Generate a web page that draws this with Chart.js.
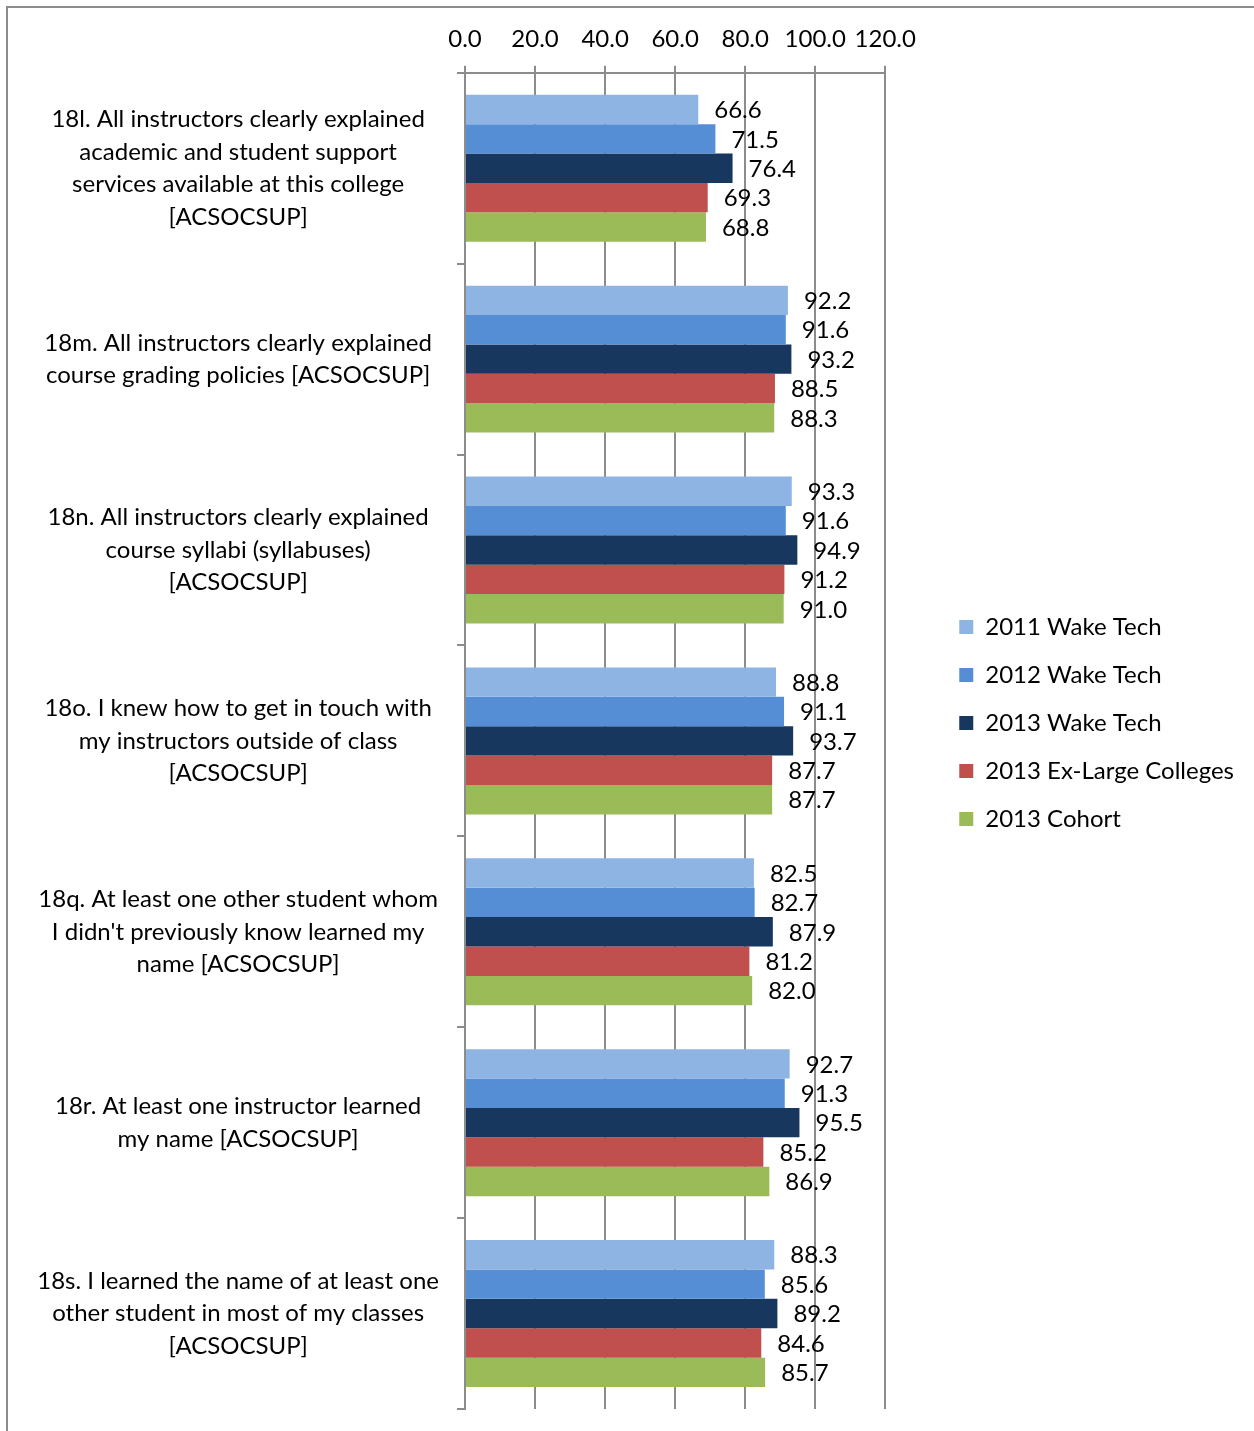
<!DOCTYPE html>
<html><head><meta charset="utf-8">
<script src="https://cdn.jsdelivr.net/npm/chart.js@4"></script>
<style>
html,body{margin:0;padding:0;background:#fff;overflow:hidden;}
#wrap{position:relative;width:1254px;height:1431px;}
#frame{position:absolute;left:6px;top:6px;width:1400px;height:1600px;border-left:2px solid #8c8c8c;border-top:2px solid #8c8c8c;pointer-events:none;}
canvas{position:absolute;left:0;top:0;}
</style></head>
<body><div id="wrap"><canvas id="c" width="1254" height="1431"></canvas><div id="frame"></div></div>
<script>
const categories = [
  ["18l. All instructors clearly explained","academic and student support","services available at this college","[ACSOCSUP]"],
  ["18m. All instructors clearly explained","course grading policies [ACSOCSUP]"],
  ["18n. All instructors clearly explained","course syllabi (syllabuses)","[ACSOCSUP]"],
  ["18o. I knew how to get in touch with","my instructors outside of class","[ACSOCSUP]"],
  ["18q. At least one other student whom","I didn't previously know learned my","name [ACSOCSUP]"],
  ["18r. At least one instructor learned","my name [ACSOCSUP]"],
  ["18s. I learned the name of at least one","other student in most of my classes","[ACSOCSUP]"]
];
const seriesNames = ["2011 Wake Tech","2012 Wake Tech","2013 Wake Tech","2013 Ex-Large Colleges","2013 Cohort"];
const wake2011 = [66.6, 92.2, 93.3, 88.8, 82.5, 92.7, 88.3];
const wake2012 = [71.5, 91.6, 91.6, 91.1, 82.7, 91.3, 85.6];
const wake2013 = [76.4, 93.2, 94.9, 93.7, 87.9, 95.5, 89.2];
const exLarge2013 = [69.3, 88.5, 91.2, 87.7, 81.2, 85.2, 84.6];
const cohort2013 = [68.8, 88.3, 91.0, 87.7, 82.0, 86.9, 85.7];
const xTicks = [0, 20, 40, 60, 80, 100, 120];
const colors = ["#8EB4E3","#558ED5","#17375E","#C0504D","#9BBB59"];

const FONT = "Lato, 'Open Sans', sans-serif";
const seriesValues = [wake2011, wake2012, wake2013, exLarge2013, cohort2013];

const valueLabels = {
  id: 'valueLabels',
  afterDatasetsDraw(chart) {
    const ctx = chart.ctx;
    ctx.save();
    ctx.font = "24px " + FONT;
    ctx.fillStyle = "#000";
    ctx.textAlign = "left";
    ctx.textBaseline = "middle";
    chart.data.datasets.forEach((ds, i) => {
      const meta = chart.getDatasetMeta(i);
      meta.data.forEach((el, j) => {
        ctx.fillText(ds.data[j].toFixed(1), el.x + 16, el.y + 1);
      });
    });
    ctx.restore();
  }
};

function zeroPad(s) { s.paddingTop = 0; s.paddingBottom = 0; s.paddingLeft = 0; s.paddingRight = 0; }

new Chart(document.getElementById('c'), {
  type: 'bar',
  data: {
    labels: categories,
    datasets: seriesNames.map((n, i) => ({
      label: n,
      data: seriesValues[i],
      backgroundColor: colors[i],
      borderWidth: 0,
      barPercentage: 1.0,
      categoryPercentage: 0.77
    }))
  },
  options: {
    indexAxis: 'y',
    responsive: false,
    animation: false,
    maintainAspectRatio: false,
    layout: { padding: { top: 13, bottom: 22, left: 25, right: 10 } },
    scales: {
      x: {
        position: 'top',
        min: 0, max: 120,
        afterBuildTicks: s => { s.ticks = xTicks.map(v => ({ value: v })); },
        afterFit: s => { zeroPad(s); },
        ticks: {
          callback: v => Number(v).toFixed(1),
          font: { family: FONT, size: 24 },
          color: '#000',
          padding: 12,
          maxRotation: 0
        },
        grid: { color: '#8c8c8c', lineWidth: 2, tickLength: 7, drawTicks: true },
        border: { display: true, color: '#8c8c8c', width: 2 }
      },
      y: {
        position: 'left',
        afterFit: s => { s.width = 440; zeroPad(s); },
        ticks: {
          font: { family: FONT, size: 24, lineHeight: 1.35 },
          color: '#000',
          padding: 18,
          crossAlign: 'center',
          autoSkip: false
        },
        grid: { display: true, drawOnChartArea: false, drawTicks: true, tickLength: 8, color: '#8c8c8c', lineWidth: 2, offset: true },
        border: { display: true, color: '#8c8c8c', width: 2 }
      },
      spacer: {
        type: 'linear',
        axis: 'y',
        position: 'right',
        display: true,
        ticks: { display: false },
        grid: { display: false, drawTicks: false },
        border: { display: false },
        afterFit: s => { s.width = 50; zeroPad(s); }
      }
    },
    plugins: {
      legend: {
        position: 'right',
        align: 'center',
        maxWidth: 400,
        title: { display: true, text: ' ', font: { family: FONT, size: 20, lineHeight: 1 }, padding: 2 },
        labels: {
          font: { family: FONT, size: 24 },
          color: '#000',
          boxWidth: 14,
          boxHeight: 14,
          padding: 24
        }
      },
      tooltip: { enabled: false }
    }
  },
  plugins: [valueLabels]
});
</script>
</body></html>
